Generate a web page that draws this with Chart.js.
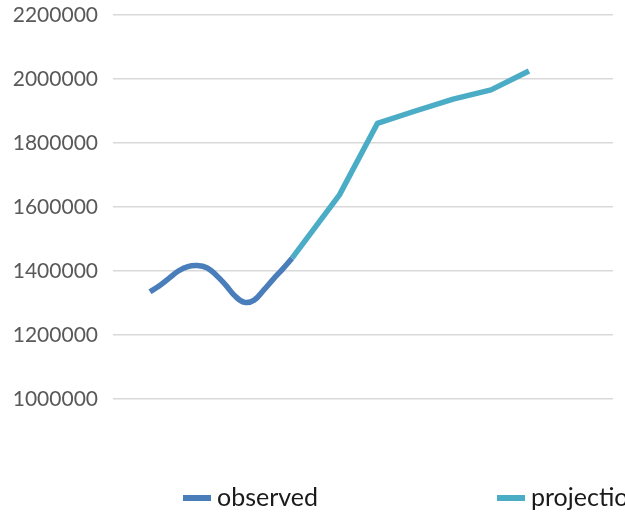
<!DOCTYPE html>
<html>
<head>
<meta charset="utf-8">
<script src="https://cdn.jsdelivr.net/npm/chart.js@4/dist/chart.umd.min.js"></script>
<style>
  html, body { margin: 0; padding: 0; background: #ffffff; overflow: hidden; }
  #wrap { position: relative; width: 625px; height: 518px; }
</style>
</head>
<body>
<div id="wrap"><canvas id="chart" width="625" height="518"></canvas></div>
<script>
// Population series: yearly observations followed by the projected path
const observedYears  = [2000, 2001, 2002, 2003, 2004, 2005, 2006, 2007, 2008, 2009, 2010, 2011, 2012, 2013, 2014, 2015];
const observedValues = [1335000, 1354000, 1377000, 1400000, 1414000, 1417000, 1410000, 1387000, 1356000, 1321000, 1302000, 1309000, 1340000, 1374000, 1406000, 1440000];

const projectionYears  = [2015, 2020, 2024, 2028, 2032, 2036, 2040];
const projectionValues = [1440000, 1638000, 1861000, 1900000, 1937000, 1966000, 2025000];

const yTicks = [1000000, 1200000, 1400000, 1600000, 1800000, 2000000, 2200000];

const seriesNames  = ['observed', 'projection'];
const seriesColors = ['#4A7EBB', '#4BACC6'];

const toPoints = (xs, ys) => xs.map((x, i) => ({ x: x, y: ys[i] }));

const FONT = 'Lato, "Open Sans", sans-serif';

// Legend laid out as two widely spaced entries along the bottom edge
const spreadLegend = {
  id: 'spreadLegend',
  afterDraw(chart) {
    const ctx = chart.ctx;
    const slots = [183, 497];
    const y = 498;
    ctx.save();
    ctx.font = '25px ' + FONT;
    ctx.textBaseline = 'middle';
    ctx.textAlign = 'left';
    chart.data.datasets.forEach((ds, i) => {
      const x = slots[i];
      ctx.fillStyle = ds.borderColor;
      ctx.fillRect(x, y - 3, 28, 6);
      ctx.fillStyle = '#1a1a1a';
      ctx.fillText(ds.label, x + 34, y);
    });
    ctx.restore();
  }
};

new Chart(document.getElementById('chart'), {
  type: 'line',
  data: {
    datasets: [
      {
        label: seriesNames[0],
        data: toPoints(observedYears, observedValues),
        borderColor: seriesColors[0],
        backgroundColor: seriesColors[0],
        borderWidth: 5.5,
        tension: 0.4,
        pointRadius: 0,
        borderJoinStyle: 'round',
        order: 1
      },
      {
        label: seriesNames[1],
        data: toPoints(projectionYears, projectionValues),
        borderColor: seriesColors[1],
        backgroundColor: seriesColors[1],
        borderWidth: 5.5,
        tension: 0,
        pointRadius: 0,
        borderJoinStyle: 'round',
        order: 2
      }
    ]
  },
  options: {
    responsive: false,
    animation: false,
    layout: { padding: { top: 15, right: 12, bottom: 119, left: 0 } },
    plugins: {
      legend: { display: false },
      tooltip: { enabled: false }
    },
    scales: {
      x: {
        type: 'linear',
        display: false,
        min: 1996.1,
        max: 2048.87
      },
      y: {
        min: yTicks[0],
        max: yTicks[yTicks.length - 1],
        afterBuildTicks(scale) {
          scale.ticks = yTicks.map(v => ({ value: v }));
        },
        afterFit(scale) { scale.width = 113; },
        border: { display: false },
        grid: {
          color: '#D9D9D9',
          lineWidth: 1.6,
          drawTicks: true,
          tickLength: 15,
          tickColor: 'rgba(0,0,0,0)'
        },
        ticks: {
          padding: 0,
          color: '#595959',
          font: { family: FONT, size: 21 },
          callback: v => String(v)
        }
      }
    }
  },
  plugins: [spreadLegend]
});
</script>
</body>
</html>
